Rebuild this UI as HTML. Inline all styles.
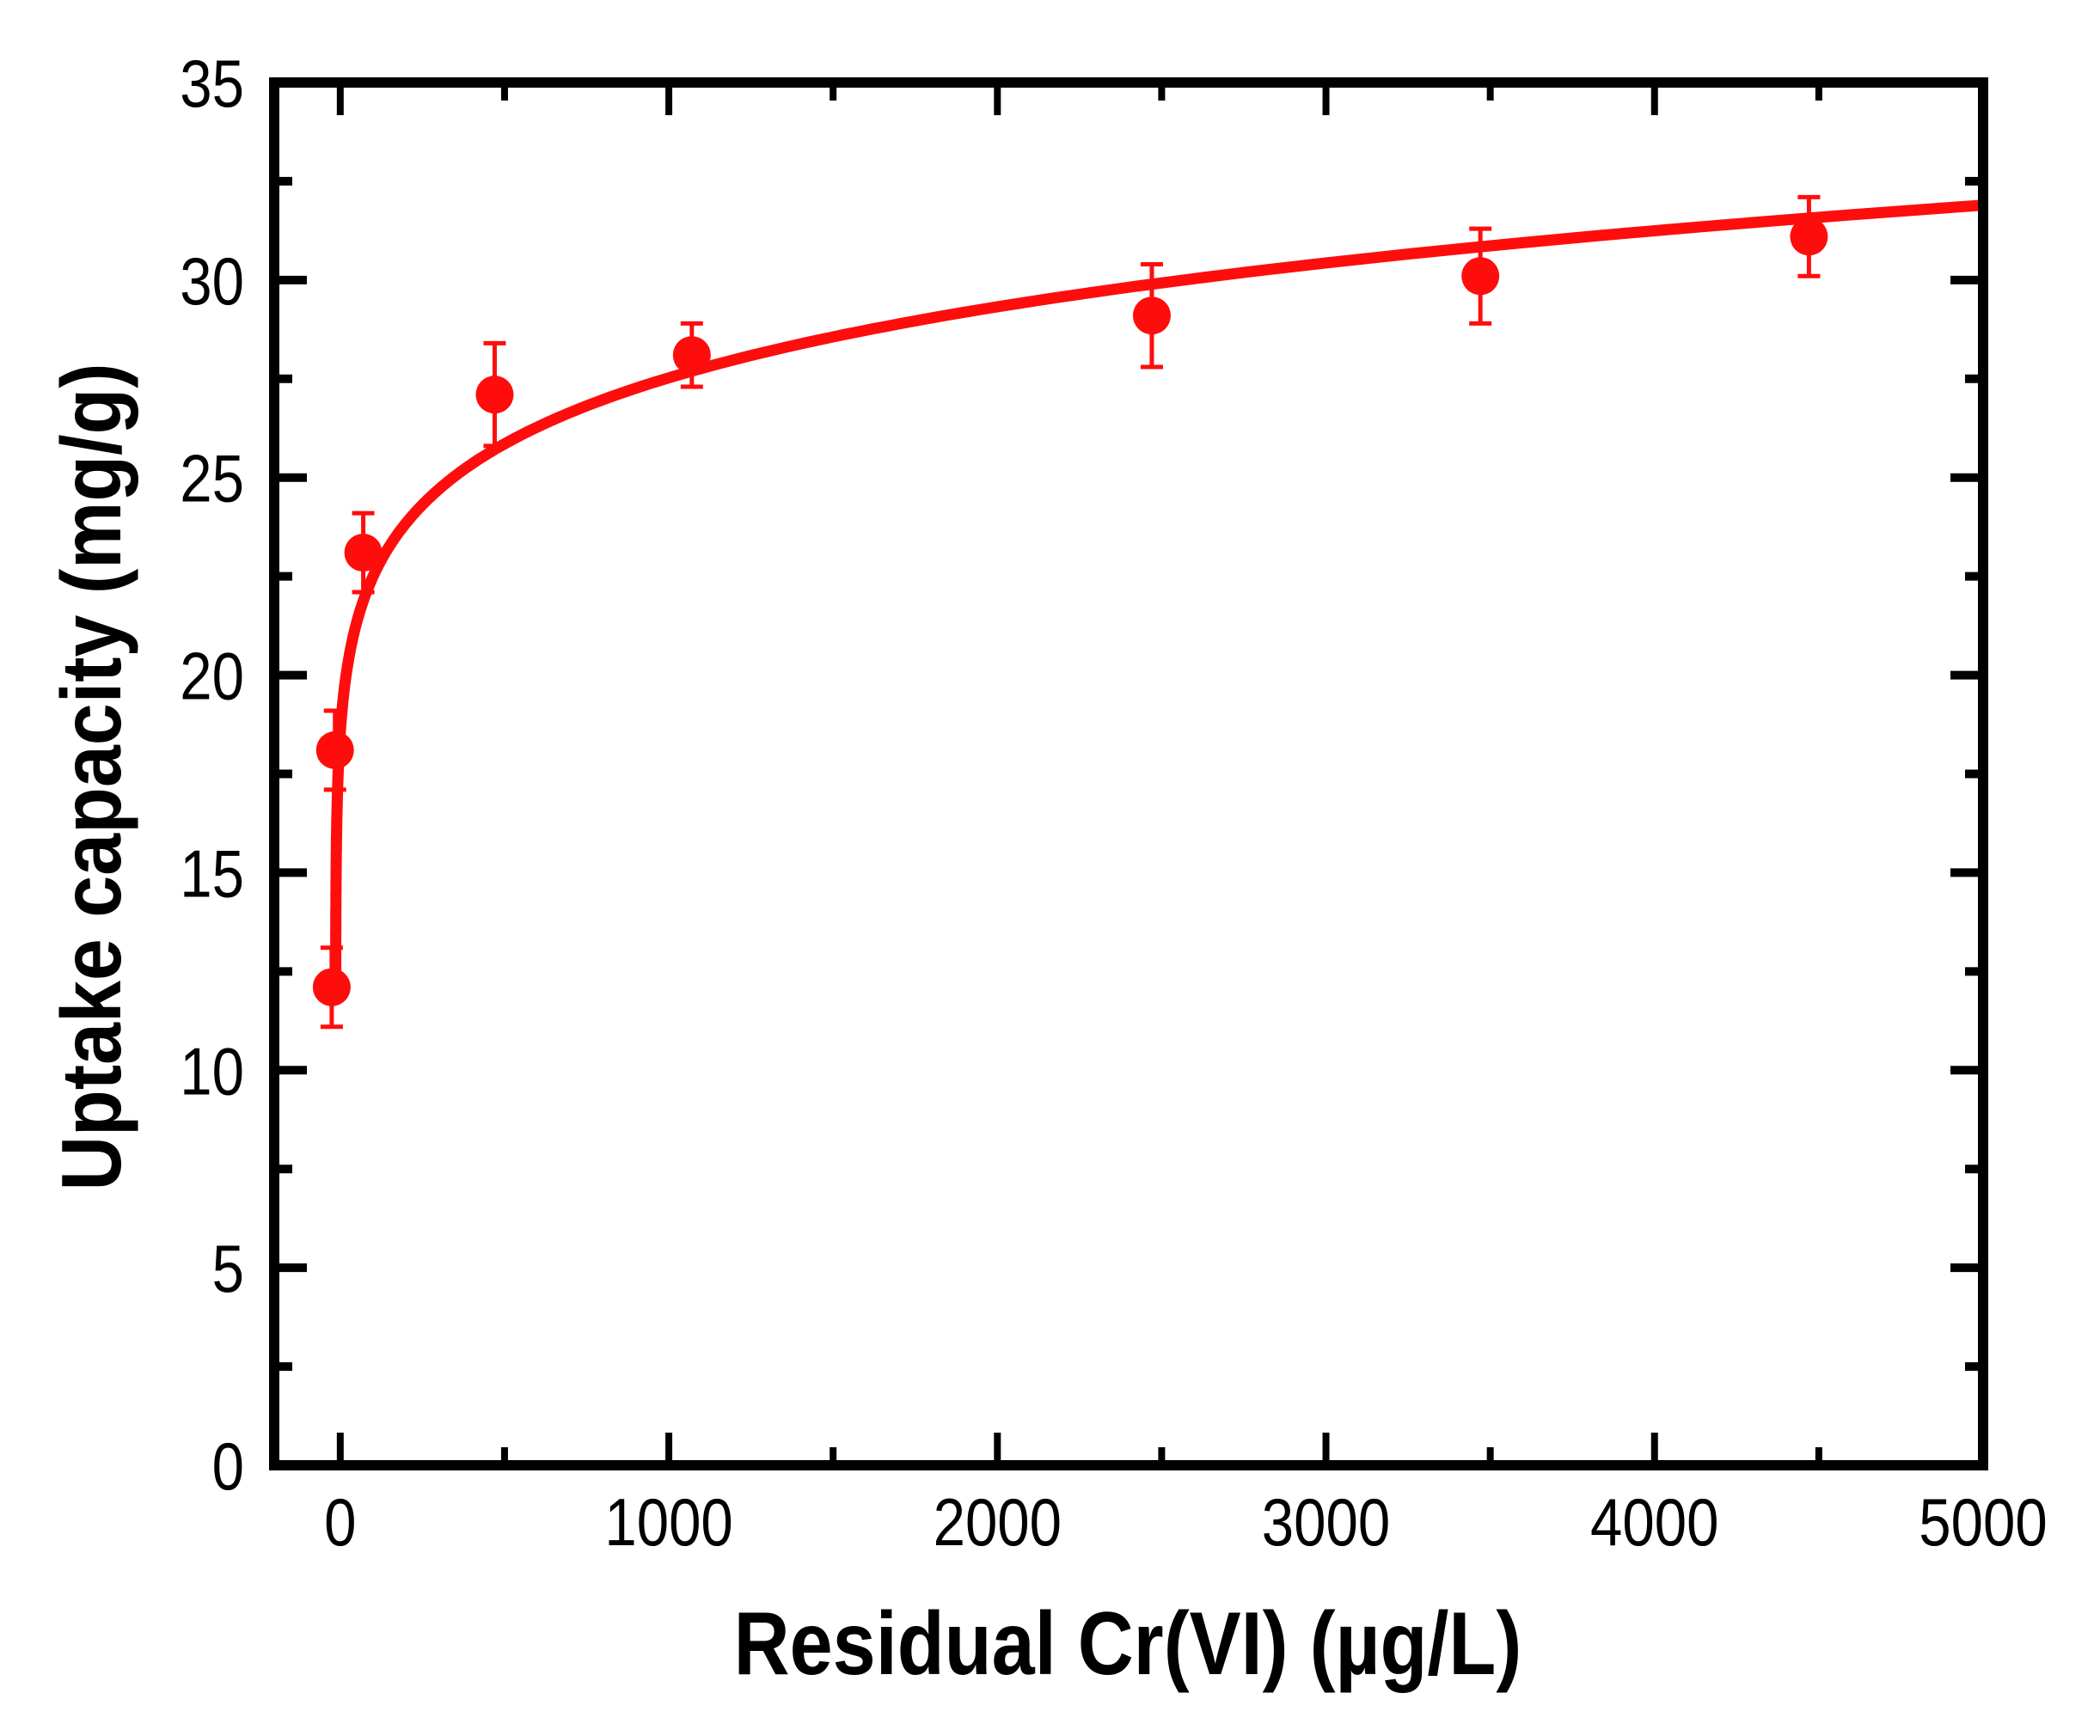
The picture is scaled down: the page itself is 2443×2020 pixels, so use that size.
<!DOCTYPE html>
<html><head><meta charset="utf-8"><style>
html,body{margin:0;padding:0;background:#fff;}
svg{display:block;font-family:"Liberation Sans",Arial,sans-serif;}
</style></head><body>
<svg id="chart" width="2443" height="2020" viewBox="0 0 2443 2020">
<g id="series"></g>
<g id="axes"></g>
<text transform="translate(140,904) rotate(-90) scale(1,1.12)" text-anchor="middle" font-size="88" font-weight="bold" fill="#000">Uptake capacity (mg/g)</text>
<text transform="translate(1312,1948) scale(1,1.15)" text-anchor="middle" font-size="90" font-weight="bold" fill="#000">Residual Cr(VI) (µg/L)</text>
</svg>
<script>
const xValues = [-26, -16, 70, 470, 1070, 2470, 3470, 4470];
const yValues = [12.1, 18.1, 23.1, 27.1, 28.1, 29.1, 30.1, 31.1];
const yErrors = [1.0, 1.0, 1.0, 1.3, 0.8, 1.3, 1.2, 1.0];
const xTickLabels = [0, 1000, 2000, 3000, 4000, 5000];
const yTickLabels = [0, 5, 10, 15, 20, 25, 30, 35];
const fitK = 14.54, fitN = 0.0922, fitX0 = -14;

const X0=319, X1=2307, Y0=1705, Y1=96;
const xMin=-201, xMax=5000, yMin=0, yMax=35;
const sx = v => X0 + (v - xMin)/(xMax - xMin)*(X1 - X0);
const sy = v => Y0 - (v - yMin)/(yMax - yMin)*(Y0 - Y1);
const NS="http://www.w3.org/2000/svg";
function mk(tag, attrs, parent){const e=document.createElementNS(NS,tag);for(const k in attrs)e.setAttribute(k,attrs[k]);parent.appendChild(e);return e;}
const series=document.getElementById('series'), axes=document.getElementById('axes');
const RED="#ff0d0d";

let pts=[];
const tMin=Math.pow(11.9/fitK,1/fitN);
for(let i=0;i<=400;i++){
  const t=tMin*Math.pow((xMax-fitX0)/tMin,i/400);
  const x=fitX0+t, y=fitK*Math.pow(t,fitN);
  pts.push(sx(x).toFixed(1)+","+sy(y).toFixed(1));
}
const curve=mk('polyline',{points:pts.join(' '),fill:'none',stroke:RED,'stroke-width':13,'stroke-linejoin':'round'},series);



xValues.forEach((xv,i)=>{
  const g=mk('g',{},series);
  
  
  const cx=sx(xv), cy=sy(yValues[i]), yt=sy(yValues[i]+yErrors[i]), yb=sy(yValues[i]-yErrors[i]);
  mk('line',{x1:cx,x2:cx,y1:yt,y2:yb,stroke:RED,'stroke-width':5},g);
  mk('line',{x1:cx-13,x2:cx+13,y1:yt,y2:yt,stroke:RED,'stroke-width':5},g);
  mk('line',{x1:cx-13,x2:cx+13,y1:yb,y2:yb,stroke:RED,'stroke-width':5},g);
  mk('circle',{cx:cx,cy:cy,r:22,fill:RED},g);
});

const frame=mk('rect',{x:X0,y:Y1,width:X1-X0,height:Y0-Y1,fill:'none',stroke:'#000','stroke-width':12},axes);



for(let v=2.5; v<35; v+=2.5){
  const y=sy(v), major=(v%5===0), L=major?38:21;
  mk('line',{x1:X0,x2:X0+L,y1:y,y2:y,stroke:'#000','stroke-width':10},axes);
  mk('line',{x1:X1,x2:X1-L,y1:y,y2:y,stroke:'#000','stroke-width':10},axes);
}
yTickLabels.forEach(v=>{
  const t=mk('text',{transform:`translate(284,${sy(v)+28}) scale(1.05,1.22)`,'text-anchor':'end','font-size':64,fill:'#000'},axes);
  t.textContent=v;
  
  
});
for(let v=0; v<5000; v+=500){
  const x=sx(v), major=(v%1000===0), L=major?38:21;
  mk('line',{x1:x,x2:x,y1:Y0,y2:Y0-L,stroke:'#000','stroke-width':8},axes);
  mk('line',{x1:x,x2:x,y1:Y1,y2:Y1+L,stroke:'#000','stroke-width':8},axes);
}
xTickLabels.forEach(v=>{
  const t=mk('text',{transform:`translate(${sx(v)},1798) scale(1.05,1.22)`,'text-anchor':'middle','font-size':64,fill:'#000'},axes);
  t.textContent=v;
  
  
});
</script>
</body></html>
